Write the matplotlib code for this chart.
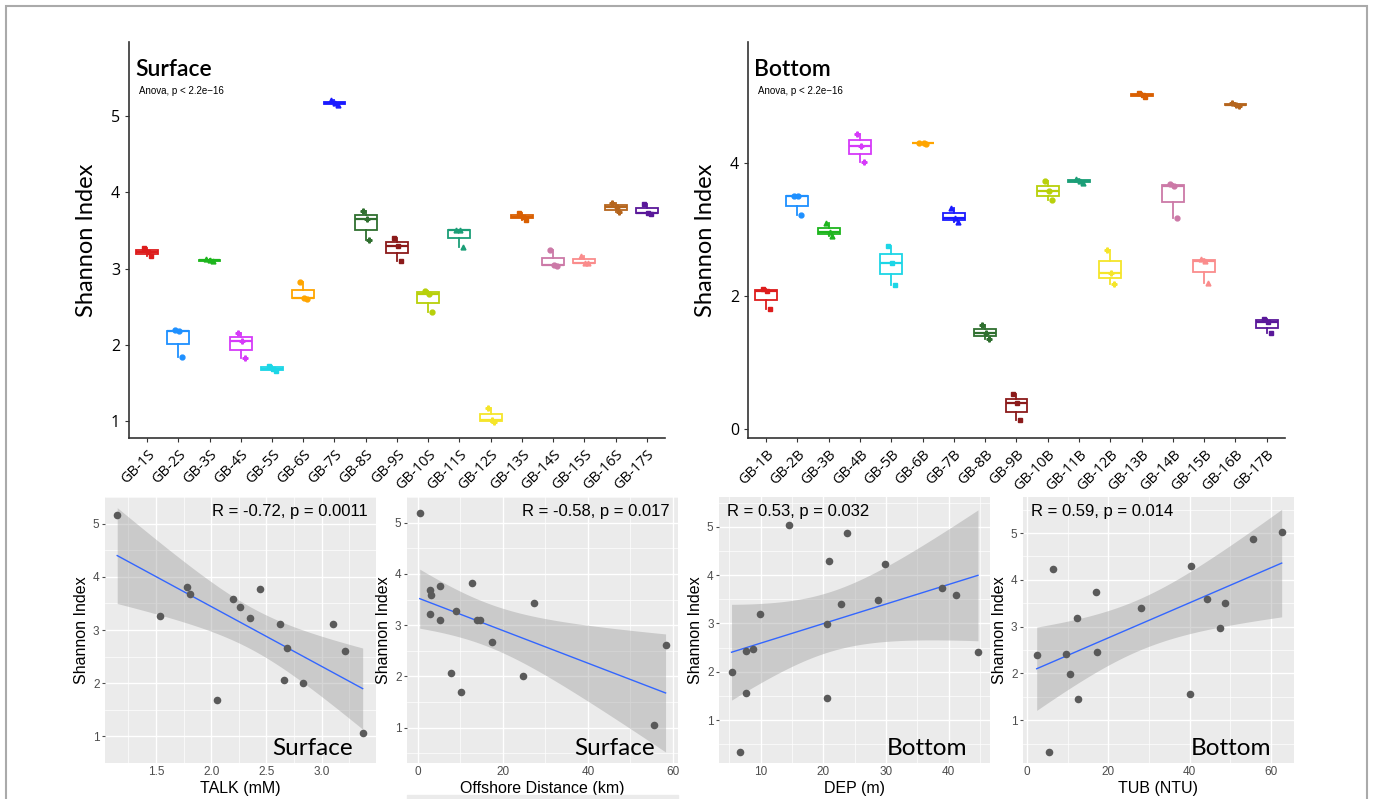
import matplotlib.pyplot as plt
import numpy as np
from matplotlib.patches import Rectangle

# site labels
sites = list(range(1, 18))
surf_labels = ["GB-%dS" % i for i in sites]
bot_labels = ["GB-%dB" % i for i in sites]

# Shannon index replicates (3 per site)
surface = [
    [3.27, 3.22, 3.17], [2.19, 2.18, 1.84], [3.12, 3.11, 3.10], [2.16, 2.05, 1.83],
    [1.73, 1.68, 1.66], [2.82, 2.62, 2.60], [5.21, 5.17, 5.15], [3.75, 3.65, 3.37],
    [3.40, 3.30, 3.10], [2.71, 2.67, 2.43], [3.50, 3.50, 3.29], [1.17, 1.01, 0.99],
    [3.73, 3.68, 3.64], [3.24, 3.05, 3.04], [3.17, 3.08, 3.07], [3.86, 3.81, 3.74],
    [3.85, 3.73, 3.72],
]
bottom = [
    [2.10, 2.08, 1.80], [3.51, 3.50, 3.22], [3.10, 2.96, 2.91], [4.43, 4.26, 4.02],
    [2.76, 2.49, 2.17], [4.30, 4.30, 4.29], [3.33, 3.17, 3.11], [1.57, 1.45, 1.36],
    [0.52, 0.39, 0.13], [3.73, 3.58, 3.44], [3.76, 3.73, 3.70], [2.69, 2.35, 2.18],
    [5.05, 5.03, 4.99], [3.69, 3.65, 3.18], [2.55, 2.53, 2.20], [4.91, 4.88, 4.86],
    [1.66, 1.61, 1.44],
]
colors = ["#DD1C1C", "#1E90FF", "#1DB51D", "#D63AF9", "#1CD6E6", "#FFA500",
          "#1A1AFF", "#2F6F2F", "#8B1A1A", "#B8D00A", "#1B9E77", "#F5E52A",
          "#D95F02", "#CC79A7", "#FA8C8C", "#B5651D", "#5A189A"]
shapes = ["s", "o", "^", "P"]

# correlation panels
talk = [1.15, 1.54, 1.78, 1.81, 2.05, 2.20, 2.26, 2.35, 2.44, 2.62, 2.66, 2.69, 2.83, 3.10, 3.21, 3.37]
talk_h = [5.17, 3.26, 3.81, 3.68, 1.68, 3.59, 3.43, 3.23, 3.77, 3.11, 2.06, 2.67, 2.01, 3.11, 2.60, 1.06]
dist = [0.4, 2.9, 3.05, 2.9, 5.24, 5.09, 7.67, 9.0, 10.17, 12.6, 13.77, 14.6, 17.5, 24.8, 27.4, 55.5, 58.3]
dist_h = [5.18, 3.68, 3.59, 3.22, 3.76, 3.11, 2.07, 3.27, 1.69, 3.82, 3.11, 3.11, 2.67, 2.01, 3.43, 1.06, 2.61]
dep = [5.38, 6.76, 7.66, 7.66, 8.78, 9.95, 14.51, 20.57, 20.62, 21.0, 22.85, 23.86, 28.8, 29.86, 38.94, 41.12, 44.68]
dep_h = [2.00, 0.34, 2.42, 1.57, 2.47, 3.20, 5.03, 2.99, 1.45, 4.30, 3.40, 4.88, 3.49, 4.23, 3.73, 3.58, 2.40]
tub = [2.37, 5.31, 6.29, 9.47, 10.45, 12.24, 12.49, 17.06, 17.22, 27.9, 40.16, 40.33, 44.16, 47.5, 48.73, 55.67, 62.6]
tub_h = [2.39, 0.33, 4.24, 2.42, 1.98, 3.19, 1.45, 3.73, 2.46, 3.40, 1.57, 4.29, 3.58, 2.98, 3.51, 4.88, 5.03]

t975 = {14: 2.145, 15: 2.131}

plt.rcParams['font.family'] = ['Liberation Sans', 'DejaVu Sans']
fig = plt.figure(figsize=(13.75, 7.99), dpi=100)


def box_panel(rect, data, labels, title, ylim, yticks):
    ax = fig.add_axes(rect)
    pos = np.arange(1, len(data) + 1)
    for i, vals in enumerate(data):
        c = colors[i]
        ax.boxplot([vals], positions=[pos[i]], widths=0.7, showfliers=False,
                   showcaps=False, patch_artist=True,
                   boxprops=dict(facecolor="white", edgecolor=c, linewidth=1.3),
                   medianprops=dict(color=c, linewidth=1.6),
                   whiskerprops=dict(color=c, linewidth=1.3))
        jit = [-0.1, 0.03, 0.12]
        for j, v in enumerate(vals):
            ax.plot(pos[i] + jit[j], v, marker=shapes[i % 4], color=c,
                    markersize=3.5, linestyle="none")
    ax.set_xlim(0.42, len(data) + 0.58)
    ax.set_ylim(*ylim)
    ax.set_yticks(yticks)
    ax.set_xticks(pos)
    ax.set_xticklabels(labels, rotation=45, ha="right", rotation_mode="anchor",
                       fontsize=10.5, family="Open Sans")
    for lb in ax.get_yticklabels():
        lb.set_family("Open Sans")
        lb.set_fontsize(11.5)
    for s in ["top", "right"]:
        ax.spines[s].set_visible(False)
    for s in ["left", "bottom"]:
        ax.spines[s].set_color("#333333")
        ax.spines[s].set_linewidth(1.2)
    ax.tick_params(length=3, color="#333333")
    ax.set_ylabel("Shannon Index", fontsize=17, family="Lato", labelpad=10)
    ax.text(0.012, 0.93, title, transform=ax.transAxes, fontsize=16.5,
            family="Lato", fontweight="semibold", va="center")
    ax.text(0.018, 0.877, "Anova, p < 2.2e\u221216", transform=ax.transAxes,
            fontsize=7, va="center")
    return ax


box_panel([0.0938, 0.4518, 0.3898, 0.4956], surface, surf_labels, "Surface",
          (0.78, 5.97), [1, 2, 3, 4, 5])
box_panel([0.544, 0.4518, 0.3905, 0.4956], bottom, bot_labels, "Bottom",
          (-0.135, 5.82), [0, 2, 4])


def scatter_panel(left, x, y, xlabel, rtext, rside, tag, xlim, ylim, xmaj, xmin):
    ax = fig.add_axes([left, 0.045, 0.197, 0.333])
    ax.set_facecolor("#EBEBEB")
    x = np.array(x)
    y = np.array(y)
    n = len(x)
    b, a = np.polyfit(x, y, 1)
    xs = np.linspace(x.min(), x.max(), 80)
    fit = a + b * xs
    resid = y - (a + b * x)
    s = np.sqrt(np.sum(resid ** 2) / (n - 2))
    se = s * np.sqrt(1.0 / n + (xs - x.mean()) ** 2 / np.sum((x - x.mean()) ** 2))
    ax.fill_between(xs, fit - t975[n - 2] * se, fit + t975[n - 2] * se,
                    color="#999999", alpha=0.4, linewidth=0, zorder=2)
    ax.plot(xs, fit, color="#3366FF", linewidth=1, zorder=3)
    ax.scatter(x, y, s=30, color="#5A5A5A", zorder=4, linewidths=0)
    ax.set_xlim(*xlim)
    ax.set_ylim(*ylim)
    ax.set_xticks(xmaj)
    ax.set_xticks(xmin, minor=True)
    ax.set_yticks([1, 2, 3, 4, 5])
    ax.set_yticks([0.5, 1.5, 2.5, 3.5, 4.5, 5.5], minor=True)
    ax.grid(True, which="major", color="white", linewidth=1.0, zorder=0)
    ax.grid(True, which="minor", color="white", linewidth=0.5, zorder=0)
    ax.set_axisbelow(True)
    for sp in ax.spines.values():
        sp.set_visible(False)
    ax.tick_params(which="both", length=0, labelsize=8.5, labelcolor="#4D4D4D", pad=2)
    ax.tick_params(which="major", axis="y", length=2, color="#4D4D4D")
    ax.set_xlabel(xlabel, fontsize=11.5, labelpad=2)
    ax.set_ylabel("Shannon Index", fontsize=11.5, labelpad=3)
    if rside == "right":
        ax.text(0.97, 0.945, rtext, transform=ax.transAxes, ha="right", va="center", fontsize=12)
    else:
        ax.text(0.03, 0.945, rtext, transform=ax.transAxes, ha="left", va="center", fontsize=12)
    ax.text(0.915, 0.055, tag, transform=ax.transAxes, ha="right", va="center",
            fontsize=17.5, family="Lato")
    return ax


scatter_panel(0.0764, talk, talk_h, "TALK (mM)", "R = -0.72, p = 0.0011", "right",
              "Surface", (1.04, 3.49), (0.91, 5.5), [1.5, 2.0, 2.5, 3.0],
              [1.25, 1.75, 2.25, 2.75, 3.25])
scatter_panel(0.296, dist, dist_h, "Offshore Distance (km)", "R = -0.58, p = 0.017", "right",
              "Surface", (-2.6, 61.2), (0.31, 5.4), [0, 20, 40, 60], [10, 30, 50])
scatter_panel(0.523, dep, dep_h, "DEP (m)", "R = 0.53, p = 0.032", "left",
              "Bottom", (3.4, 46.6), (0.11, 5.62), [10, 20, 30, 40], [5, 15, 25, 35, 45])
scatter_panel(0.744, tub, tub_h, "TUB (NTU)", "R = 0.59, p = 0.014", "left",
              "Bottom", (-1.0, 65.6), (0.085, 5.77), [0, 20, 40, 60], [10, 30, 50])

# frame around the figure and strip below offshore panel
fig.patches.append(Rectangle((6 / 1375, -0.01), 1361 / 1375, 1 - 6 / 799 + 0.01,
                             transform=fig.transFigure, fill=False,
                             edgecolor="#AAAAAA", linewidth=1.5))
fig.patches.append(Rectangle((407 / 1375, 0), 271 / 1375, 4 / 799,
                             transform=fig.transFigure, color="#EBEBEB"))

fig.savefig("out.png", dpi=100)
